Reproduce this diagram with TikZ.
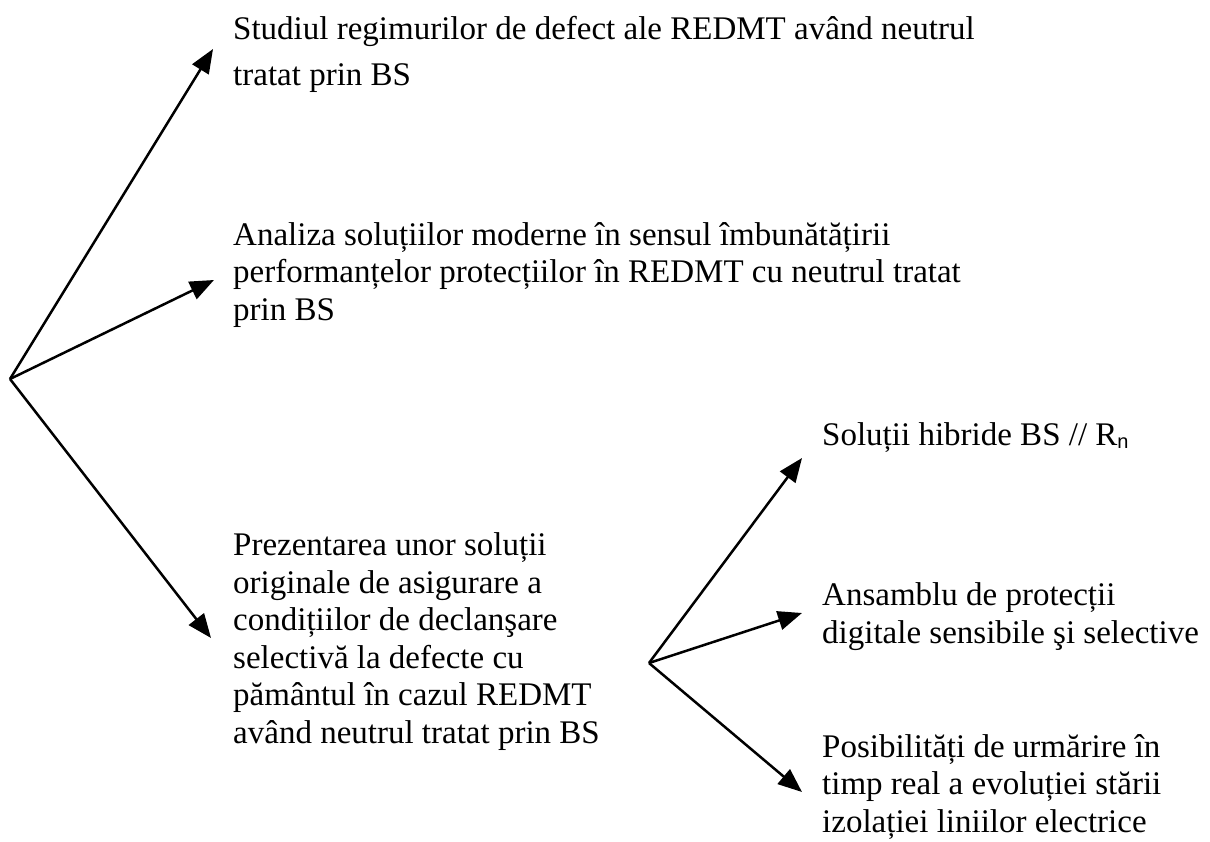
\documentclass[tikz,border=0pt]{standalone}
\usepackage{fontspec}
\setmainfont{Liberation Serif}
\newfontfamily\subfont{Liberation Sans}
\usetikzlibrary{arrows.meta}
\begin{document}
\begin{tikzpicture}[x=1pt,y=-1pt,
  % multi-line blocks are placed by the baseline of their last line
  blocktext/.style={anchor=base west, inner sep=0pt, align=left,
    font=\fontsize{33}{37.5}\selectfont},
  branch/.style={line width=2.5pt, line join=miter,
    -{Triangle[length=24pt,width=19pt]}}]
\useasboundingbox (0,0) rectangle (1210,842);

% main branch point and the three topics
\coordinate (root) at (10,379);
\node[blocktext, font=\fontsize{33}{46}\selectfont] (studiu) at (233,86)
  {Studiul regimurilor de defect ale REDMT având neutrul\\tratat prin BS};
\node[blocktext] (analiza) at (233,320)
  {Analiza soluțiilor moderne în sensul îmbunătățirii\\performanțelor protecțiilor în REDMT cu neutrul tratat\\prin BS};
\node[blocktext] (prezentare) at (233,743)
  {Prezentarea unor soluții\\originale de asigurare a\\condițiilor de declanşare\\selectivă la defecte cu\\pământul în cazul REDMT\\având neutrul tratat prin BS};

\coordinate (tipA) at (213,49);
\coordinate (tipB) at (214,280);
\coordinate (tipC) at (211,638);
\draw[branch] (root) -- (tipA);
\draw[branch] (root) -- (tipB);
\draw[branch] (root) -- (tipC);

% second branch point and the original solutions
\coordinate (sub) at (649,663);
\node[blocktext] (hibride) at (822,445)
  {Soluții hibride BS // R\raisebox{-0.12em}{\subfont\fontsize{20}{20}\selectfont n}};
\node[blocktext] (ansamblu) at (822,643)
  {Ansamblu de protecții\\digitale sensibile şi selective};
\node[blocktext] (urmarire) at (822,832)
  {Posibilități de urmărire în\\timp real a evoluției stării\\izolației liniilor electrice};

\coordinate (tipD) at (802,458);
\coordinate (tipE) at (802,613);
\coordinate (tipF) at (802,792);
\draw[branch] (sub) -- (tipD);
\draw[branch] (sub) -- (tipE);
\draw[branch] (sub) -- (tipF);
\end{tikzpicture}
\end{document}
